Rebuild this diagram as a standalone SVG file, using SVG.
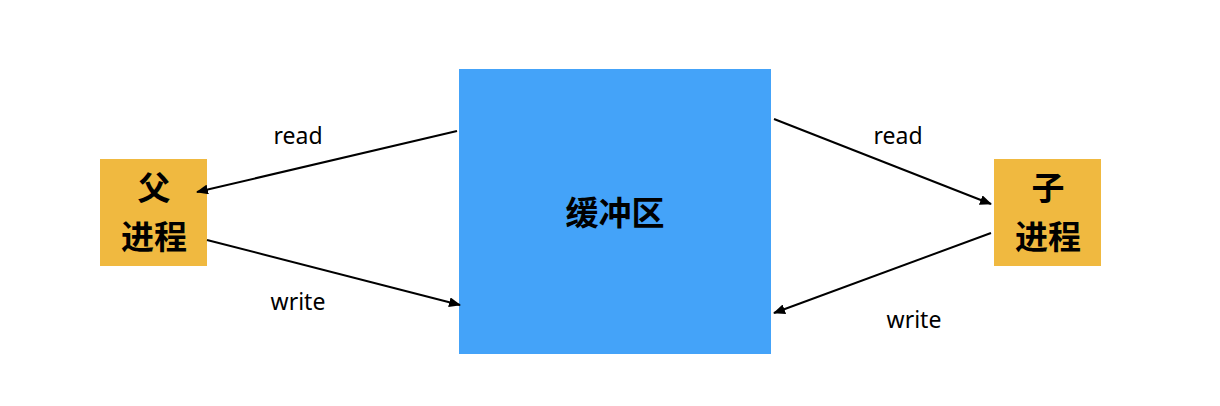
<svg xmlns="http://www.w3.org/2000/svg" width="1220" height="406" viewBox="0 0 1220 406">
<style>
.proc{fill:#F0B940}
.buf{fill:#44A3F9}
.cjk{font-family:"Noto Sans CJK SC","Noto Sans",sans-serif;font-weight:bold;font-size:33px;fill:#000;text-anchor:middle}
.lbl{font-family:"Noto Sans","Liberation Sans",sans-serif;font-size:23px;fill:#000;text-anchor:middle}
.edge{stroke:#000;stroke-width:2;fill:none;marker-end:url(#arr)}
</style>
<defs>
<marker id="arr" viewBox="0 0 12 10" refX="11" refY="5" markerWidth="12" markerHeight="10" markerUnits="userSpaceOnUse" orient="auto">
<path d="M0,0 L12,5 L0,10 Z" fill="#000"/>
</marker>
</defs>
<rect width="1220" height="406" fill="#fff"/>
<g id="parent">
<rect class="proc" x="100" y="159" width="107" height="107"/>
<text class="cjk" x="154" y="200">父</text>
<text class="cjk" x="154" y="249">进程</text>
</g>
<g id="buffer">
<rect class="buf" x="459" y="69" width="312" height="285"/>
<text class="cjk" x="615" y="225">缓冲区</text>
</g>
<g id="child">
<rect class="proc" x="994" y="159" width="107" height="107"/>
<text class="cjk" x="1048" y="200">子</text>
<text class="cjk" x="1048" y="249">进程</text>
</g>
<g id="connectors">
<line class="edge" x1="457" y1="131" x2="197" y2="192"/>
<line class="edge" x1="207" y1="240" x2="460" y2="305"/>
<line class="edge" x1="774" y1="119" x2="991" y2="204"/>
<line class="edge" x1="991" y1="233" x2="774" y2="313"/>
<text class="lbl" x="298" y="144">read</text>
<text class="lbl" x="298" y="310">write</text>
<text class="lbl" x="898" y="144">read</text>
<text class="lbl" x="914" y="328">write</text>
</g>
</svg>
